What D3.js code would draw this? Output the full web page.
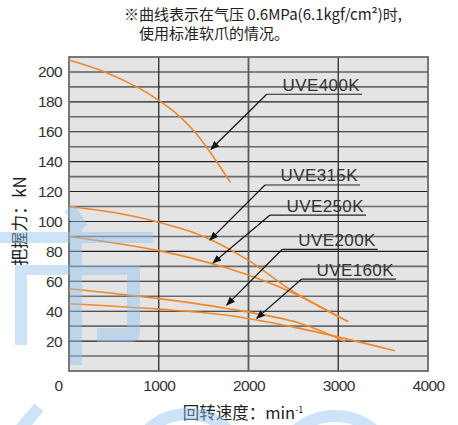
<!DOCTYPE html>
<html lang="zh">
<head>
  <meta charset="UTF-8">
  <title>UVE grip force</title>
  <style>
    body { margin: 0; background: #fff; }
    svg { display: block; }
    .cjk { font-family: "Noto Sans CJK SC", sans-serif; }
  </style>
  <script src="https://cdn.jsdelivr.net/npm/d3@7"></script>
</head>
<body>
<script>
  // values (rpm, kN)
  var series = ["UVE400K", "UVE315K", "UVE250K", "UVE200K", "UVE160K"];
  var rpm400 = [0, 400, 800, 1000, 1200, 1400, 1600, 1800];
  var kn400  = [208, 200, 188.5, 181, 172, 160, 144, 126];
  var rpm315 = [0, 500, 1000, 1500, 2000, 2500, 3110];
  var kn315  = [110, 106, 99.5, 90, 74, 53, 33];
  var rpm250 = [0, 1000, 1750, 2430, 3110];
  var kn250  = [90, 80.5, 69, 54, 33];
  var rpm200 = [0, 1000, 1740, 2570, 3080];
  var kn200  = [55, 48.4, 42, 32, 19.6];
  var rpm160 = [0, 1000, 1740, 2570, 3630];
  var kn160  = [45, 41.4, 37.4, 28.5, 13.6];

  // arrow tips and label underlines, in data units
  var tipRpm   = [1582, 1571, 1604, 1757, 2091];
  var tipKn    = [148.3, 87.6, 72.2, 44.1, 35.2];
  var lblRpm0  = [2203, 2184, 2240, 2377, 2593];
  var lblRpm1  = [3265, 3242, 3309, 3440, 3643];
  var lblKn    = [185.1, 124.4, 104.3, 81.4, 61.5];

  var xTicks = [0, 1000, 2000, 3000, 4000];
  var yTicks = [20, 40, 60, 80, 100, 120, 140, 160, 180, 200];

  var W = 458, H = 425;
  var x = d3.scaleLinear().domain([0, 4000]).range([69, 428]);
  var y = d3.scaleLinear().domain([0, 210]).range([371, 57]);

  var svg = d3.select("body").append("svg").attr("width", W).attr("height", H);

  svg.append("defs").append("marker")
    .attr("id", "arr")
    .attr("viewBox", "0 0 10 10")
    .attr("refX", 9).attr("refY", 5)
    .attr("markerWidth", 9).attr("markerHeight", 9)
    .attr("markerUnits", "userSpaceOnUse")
    .attr("orient", "auto")
    .append("path").attr("d", "M0,1 L10,5 L0,9 Z").attr("fill", "#111");

  // title, two lines
  svg.append("text").attr("class", "cjk").attr("font-size", 15).attr("fill", "#222")
    .attr("x", 124).attr("y", 20).text("※曲线表示在气压 0.6MPa(6.1kgf/cm²)时,");
  svg.append("text").attr("class", "cjk").attr("font-size", 15).attr("fill", "#222")
    .attr("x", 139).attr("y", 39).text("使用标准软爪的情况。");

  // plot background
  svg.append("rect")
    .attr("x", x(0)).attr("y", y(210))
    .attr("width", x(4000) - x(0)).attr("height", y(0) - y(210))
    .attr("fill", "#e4e4e4");

  // horizontal grid
  svg.append("g").selectAll("line").data(d3.range(10, 210, 10)).enter().append("line")
    .attr("x1", x(0)).attr("x2", x(4000))
    .attr("y1", function(d){ return y(d); }).attr("y2", function(d){ return y(d); })
    .attr("stroke", function(d){ return d % 20 ? "#6a6a6a" : "#1e1e1e"; })
    .attr("stroke-width", function(d){ return d % 20 ? 1.6 : 1.1; });

  // vertical grid
  svg.append("g").selectAll("line").data([1000, 2000, 3000]).enter().append("line")
    .attr("x1", function(d){ return x(d); }).attr("x2", function(d){ return x(d); })
    .attr("y1", y(210)).attr("y2", y(0))
    .attr("stroke", function(d){ return d == 2000 ? "#5a5a5a" : "#2a2a2a"; })
    .attr("stroke-width", function(d){ return d == 2000 ? 1.8 : 1.3; });

  svg.append("rect")
    .attr("x", x(0)).attr("y", y(210))
    .attr("width", x(4000) - x(0)).attr("height", y(0) - y(210))
    .attr("fill", "none").attr("stroke", "#6a6a6a").attr("stroke-width", 1.8);

  // curves
  var line = d3.line()
    .x(function(d){ return x(d[0]); })
    .y(function(d){ return y(d[1]); })
    .curve(d3.curveCatmullRom.alpha(0.5));
  var curves = [[rpm400, kn400], [rpm315, kn315], [rpm250, kn250], [rpm200, kn200], [rpm160, kn160]];
  svg.append("g").selectAll("path").data(curves).enter().append("path")
    .attr("d", function(c){ return line(d3.zip(c[0], c[1])); })
    .attr("fill", "none")
    .attr("stroke", "#f0882a")
    .attr("stroke-width", 1.6);

  // labels with leader arrows
  var ann = svg.append("g");
  series.forEach(function(name, i) {
    ann.append("line")
      .attr("x1", x(lblRpm0[i])).attr("y1", y(lblKn[i]))
      .attr("x2", x(lblRpm1[i])).attr("y2", y(lblKn[i]))
      .attr("stroke", "#222").attr("stroke-width", 1.2);
    ann.append("line")
      .attr("x1", x(lblRpm0[i])).attr("y1", y(lblKn[i]))
      .attr("x2", x(tipRpm[i])).attr("y2", y(tipKn[i]))
      .attr("stroke", "#111").attr("stroke-width", 1.2)
      .attr("marker-end", "url(#arr)");
    ann.append("text")
      .attr("x", x(lblRpm1[i]) - 2).attr("y", y(lblKn[i]) - 3.5)
      .attr("text-anchor", "end")
      .attr("font-family", "Liberation Sans, sans-serif")
      .attr("font-size", 17).attr("letter-spacing", 0.4)
      .attr("fill", "#333")
      .text(name);
  });

  // axes
  var yAxis = svg.append("g")
    .attr("transform", "translate(" + x(0) + ",0)")
    .call(d3.axisLeft(y).tickValues(yTicks).tickSize(0).tickPadding(7).tickFormat(d3.format("d")));
  var xAxis = svg.append("g")
    .attr("transform", "translate(0," + y(0) + ")")
    .call(d3.axisBottom(x).tickValues(xTicks).tickSize(0).tickPadding(9).tickFormat(d3.format("d")));
  [yAxis, xAxis].forEach(function(a) {
    a.select(".domain").remove();
    a.selectAll("text").attr("font-size", 15.5).attr("fill", "#333")
      .attr("letter-spacing", -0.6)
      .attr("font-family", "Liberation Sans, sans-serif");
  });
  xAxis.selectAll("text").filter(function(d){ return d === 0; }).attr("dx", -11);

  // axis titles
  svg.append("text").attr("class", "cjk")
    .attr("transform", "translate(26,221) rotate(-90)")
    .attr("text-anchor", "middle").attr("font-size", 17).attr("fill", "#222")
    .text("把握力：kN");
  var xt = svg.append("text").attr("class", "cjk")
    .attr("x", 243).attr("y", 419)
    .attr("text-anchor", "middle").attr("font-size", 16.5).attr("fill", "#222");
  xt.append("tspan").text("回转速度：min");
  xt.append("tspan").attr("font-size", 9).attr("dy", -6).text("-1");

  // faint blue watermark over the picture
  var wm = svg.append("g").attr("fill", "#8ec0f0").attr("opacity", 0.45);
  wm.append("rect").attr("x", 0).attr("y", 232).attr("width", 153).attr("height", 11);
  wm.append("rect").attr("x", 15).attr("y", 265).attr("width", 12).attr("height", 80);
  wm.append("rect").attr("x", 27).attr("y", 265).attr("width", 113).attr("height", 10);
  wm.append("rect").attr("x", 127).attr("y", 275).attr("width", 13).attr("height", 58);
  wm.append("path").attr("d", "M97,328 L127,328 L127,333 L140,333 Q139,342 130,342 L97,342 Z");
  wm.append("rect").attr("x", 70).attr("y", 243).attr("width", 12).attr("height", 122);
  wm.append("rect").attr("x", 70).attr("y", 222).attr("width", 12).attr("height", 10);
  wm.append("rect").attr("x", -6).attr("y", -12).attr("width", 12).attr("height", 24)
    .attr("transform", "translate(76,218) rotate(-32)");
  var wmArcs = wm.append("g").attr("fill", "none").attr("stroke", "#8ec0f0").attr("stroke-width", 12);
  wmArcs.append("circle").attr("cx", 188).attr("cy", 472).attr("r", 58);
  wmArcs.append("circle").attr("cx", 335).attr("cy", 476).attr("r", 60);
  wm.append("rect").attr("x", -6).attr("y", -14).attr("width", 12).attr("height", 28)
    .attr("transform", "translate(30,418) rotate(40)");
</script>
</body>
</html>
